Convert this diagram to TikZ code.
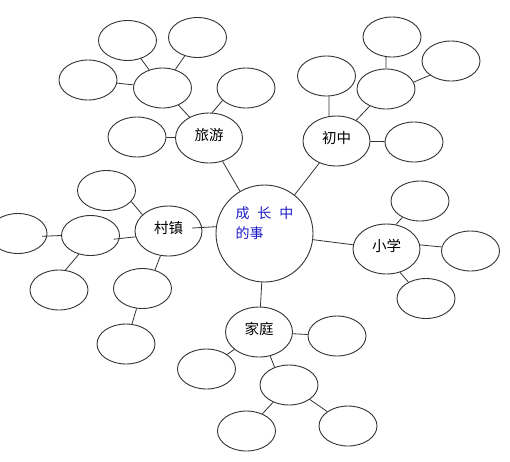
\documentclass[tikz,border=0pt]{standalone}
\usepackage{fontspec}
\newfontfamily\cjk[WordSpace=2.5]{Noto Sans CJK SC}
\usetikzlibrary{shapes.geometric}
\definecolor{mmline}{HTML}{333333}
\definecolor{mmblue}{HTML}{1C1CC8}
\tikzset{
  leaf/.style    ={ellipse, draw=mmline, line width=0.9pt, minimum width=58pt,
                   minimum height=40pt, inner sep=0pt},
  topic/.style   ={leaf, minimum width=67pt, minimum height=50pt,
                   text height=12pt, text depth=8pt,
                   font=\cjk\fontsize{14.5}{16}\selectfont},
  core/.style    ={circle, draw=mmline, line width=0.9pt, minimum size=97pt, inner sep=0pt},
  coretext/.style={align=left, text=mmblue, inner sep=0pt,
                   font=\cjk\fontsize{14}{20}\selectfont},
  link/.style    ={draw=mmline, line width=0.8pt},
}

\begin{document}
\begin{tikzpicture}[x=1pt,y=-1pt]
  \useasboundingbox[fill=white] (0,0) rectangle (510,461);
  % centre
  \node[core] (core) at (264.5,233.5) {};
  \node[coretext] (coreText) at (264.5,223.5) {成 长 中\\的事};
  % travel
  \node[topic] (travel)    at (209,138)   {旅游};
  \node[leaf]  (travelHub) at (162.5,88)  {};
  \node[leaf]  (travelA)   at (127.5,40.5){};
  \node[leaf]  (travelB)   at (197.5,37.5){};
  \node[leaf]  (travelC)   at (88,80)     {};
  \node[leaf]  (travelD)   at (246,88)    {};
  \node[leaf]  (travelE)   at (137,137)   {};
  % junior school
  \node[topic] (junior)    at (336.5,141) {初中};
  \node[leaf]  (juniorA)   at (326.5,76)  {};
  \node[leaf]  (juniorHub) at (386,89)    {};
  \node[leaf]  (juniorB)   at (392,37)    {};
  \node[leaf]  (juniorC)   at (451,61)    {};
  \node[leaf]  (juniorD)   at (414,142)   {};
  % primary school
  \node[topic] (primary)   at (386.5,249) {小学};
  \node[leaf]  (primaryA)  at (420,201)   {};
  \node[leaf]  (primaryB)  at (470.5,251) {};
  \node[leaf]  (primaryC)  at (426,298.5) {};
  % village
  \node[topic] (village)    at (168.5,231)  {村镇};
  \node[leaf]  (villageA)   at (106.5,190.5){};
  \node[leaf]  (villageHub) at (90.5,235.5) {};
  \node[leaf]  (villageB)   at (18,233.5)   {};
  \node[leaf]  (villageC)   at (59,290)     {};
  \node[leaf]  (villageD)   at (142.5,288.5){};
  \node[leaf]  (villageE)   at (126,344)    {};
  % family
  \node[topic] (family)    at (259,332)   {家庭};
  \node[leaf]  (familyA)   at (337,336)   {};
  \node[leaf]  (familyB)   at (206.5,369) {};
  \node[leaf]  (familyHub) at (289,385)   {};
  \node[leaf]  (familyC)   at (246.5,431) {};
  \node[leaf]  (familyD)   at (348,426)   {};
  % links
  \foreach \a/\b in {travel/core, travelHub/travel, travelHub/travelA, travelHub/travelB,
                     travelHub/travelC, travel.83/travelD.208, travel/travelE,
                     junior/core, junior.107/juniorA.277, junior/juniorHub,
                     juniorHub.90/juniorB.253, juniorHub.14/juniorC.214, junior/juniorD,
                     core/primary, primary.69/primaryA.223, primary.7/primaryB.172,
                     primary.300/primaryC.137,
                     village.148/villageA.336, villageHub.238/villageC.72,
                     village.252/villageD.56, villageD/villageE,
                     core/family, family/familyA, family/familyB,
                     family.295/familyHub.129, familyHub/familyC, familyHub/familyD}
    \draw[link] (\a) -- (\b);
  \draw[link, shorten <=-10pt] (village.6) -- (core.172);
  \draw[link, shorten <=-6pt] (villageHub.354) -- (village.190);
  \draw[link, shorten <=-5pt] (villageB.355) -- (villageHub.180);
\end{tikzpicture}
\end{document}
